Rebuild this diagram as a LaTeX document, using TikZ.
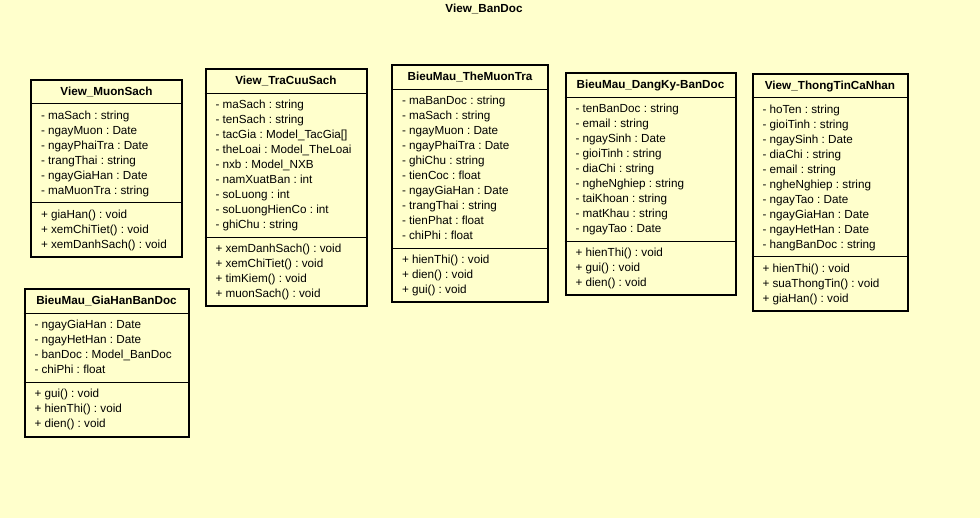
\documentclass[tikz,border=0pt]{standalone}
\usepackage{fontspec}
\setmainfont{Liberation Sans}
\usepackage[]{xcolor}
\usetikzlibrary{shapes.multipart}
\definecolor{paper}{HTML}{FFFFCC}
\newcommand{\rs}{\rule[-4pt]{0pt}{15pt}}
\frenchspacing

\begin{document}
\begin{tikzpicture}[
    x=1pt, y=-1pt,
    font=\fontsize{11.7}{15}\selectfont,
    classbox/.style={rectangle split, rectangle split parts=3, draw, line width=2pt, fill=paper,
        align=left, inner xsep=10pt, inner ysep=3.5pt, anchor=north west,
        rectangle split part align={center,left,left}, rectangle split draw splits=false},
    divider/.style={line width=1pt}
  ]
    \fill[paper] (0,0) rectangle (980,518);
    \useasboundingbox (0,0) rectangle (980,518);

    \node[font=\bfseries\fontsize{11.7}{15}\selectfont] (title) at (484,9) {View\_BanDoc};

    \node[classbox, minimum width=151pt] (MuonSach) at (30,79) {\rs\textbf{View\_MuonSach}
        \nodepart{two}\rs - maSach : string\\ - ngayMuon : Date\\ - ngayPhaiTra : Date\\
            - trangThai : string\\ - ngayGiaHan : Date\\ - maMuonTra : string\rs
        \nodepart{three}\rs + giaHan() : void\\ + xemChiTiet() : void\\ + xemDanhSach() : void\rs};

    \node[classbox, minimum width=161pt] (TraCuuSach) at (204.5,68.5) {\rs\textbf{View\_TraCuuSach}
        \nodepart{two}\rs - maSach : string\\ - tenSach : string\\ - tacGia : Model\_TacGia[]\\
            - theLoai : Model\_TheLoai\\ - nxb : Model\_NXB\\ - namXuatBan : int\\
            - soLuong : int\\ - soLuongHienCo : int\\ - ghiChu : string\rs
        \nodepart{three}\rs + xemDanhSach() : void\\ + xemChiTiet() : void\\
            + timKiem() : void\\ + muonSach() : void\rs};

    \node[classbox, minimum width=156pt] (TheMuonTra) at (391,64.5) {\rs\textbf{BieuMau\_TheMuonTra}
        \nodepart{two}\rs - maBanDoc : string\\ - maSach : string\\ - ngayMuon : Date\\
            - ngayPhaiTra : Date\\ - ghiChu : string\\ - tienCoc : float\\
            - ngayGiaHan : Date\\ - trangThai : string\\ - tienPhat : float\\ - chiPhi : float\rs
        \nodepart{three}\rs + hienThi() : void\\ + dien() : void\\ + gui() : void\rs};

    \node[classbox, minimum width=170pt] (DangKy) at (564.5,72.5) {\rs\textbf{BieuMau\_DangKy-BanDoc}
        \nodepart{two}\rs - tenBanDoc : string\\ - email : string\\ - ngaySinh : Date\\
            - gioiTinh : string\\ - diaChi : string\\ - ngheNghiep : string\\
            - taiKhoan : string\\ - matKhau : string\\ - ngayTao : Date\rs
        \nodepart{three}\rs + hienThi() : void\\ + gui() : void\\ + dien() : void\rs};

    \node[classbox, minimum width=155pt] (ThongTin) at (751.5,73) {\rs\textbf{View\_ThongTinCaNhan}
        \nodepart{two}\rs - hoTen : string\\ - gioiTinh : string\\ - ngaySinh : Date\\
            - diaChi : string\\ - email : string\\ - ngheNghiep : string\\ - ngayTao : Date\\
            - ngayGiaHan : Date\\ - ngayHetHan : Date\\ - hangBanDoc : string\rs
        \nodepart{three}\rs + hienThi() : void\\ + suaThongTin() : void\\ + giaHan() : void\rs};

    \node[classbox, minimum width=164pt] (GiaHan) at (23.5,288.5) {\rs\textbf{BieuMau\_GiaHanBanDoc}
        \nodepart{two}\rs - ngayGiaHan : Date\\ - ngayHetHan : Date\\
            - banDoc : Model\_BanDoc\\ - chiPhi : float\rs
        \nodepart{three}\rs + gui() : void\\ + hienThi() : void\\ + dien() : void\rs};

    % compartment lines
    \draw[divider] (MuonSach.text split west) -- (MuonSach.text split east);
    \draw[divider] (MuonSach.two split west) -- (MuonSach.two split east);
    \draw[divider] (TraCuuSach.text split west) -- (TraCuuSach.text split east);
    \draw[divider] (TraCuuSach.two split west) -- (TraCuuSach.two split east);
    \draw[divider] (TheMuonTra.text split west) -- (TheMuonTra.text split east);
    \draw[divider] (TheMuonTra.two split west) -- (TheMuonTra.two split east);
    \draw[divider] (DangKy.text split west) -- (DangKy.text split east);
    \draw[divider] (DangKy.two split west) -- (DangKy.two split east);
    \draw[divider] (ThongTin.text split west) -- (ThongTin.text split east);
    \draw[divider] (ThongTin.two split west) -- (ThongTin.two split east);
    \draw[divider] (GiaHan.text split west) -- (GiaHan.text split east);
    \draw[divider] (GiaHan.two split west) -- (GiaHan.two split east);
\end{tikzpicture}
\end{document}
